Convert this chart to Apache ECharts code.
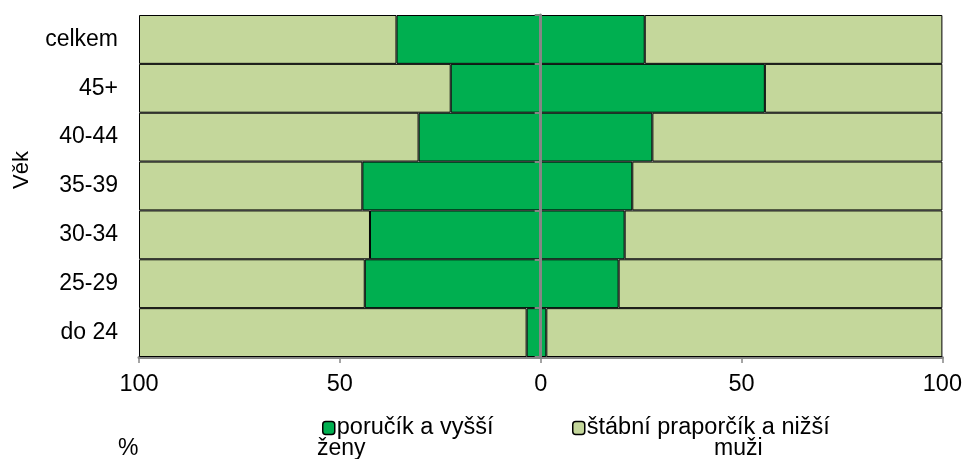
<!DOCTYPE html>
<html>
<head>
<meta charset="utf-8">
<script src="https://cdn.jsdelivr.net/npm/echarts@6/dist/echarts.min.js"></script>
<style>html,body{margin:0;padding:0;background:#fff}#c{width:965px;height:459px}</style>
</head>
<body>
<div id="c"></div>
<script>
const categories = ['celkem', '45+', '40-44', '35-39', '30-34', '25-29', 'do 24'];
const zenyVyssi = [35.9, 22.4, 30.4, 44.4, 42.5, 43.8, 3.5];
const zenyNizsi = [64.1, 77.6, 69.6, 55.6, 57.5, 56.2, 96.5];
const muziVyssi = [25.9, 55.8, 27.8, 22.8, 20.9, 19.4, 1.4];
const muziNizsi = [74.1, 44.2, 72.2, 77.2, 79.1, 80.6, 98.6];
const xTicks = [-100, -50, 0, 50, 100];
const seriesNames = ['poručík a vyšší', 'štábní praporčík a nižší'];

const FONT = "'Liberation Sans', Arial, sans-serif";
const DARK = '#00AF50';
const LIGHT = '#C4D79B';
const GRAY = '#868686';

const chart = echarts.init(document.getElementById('c'), null, {renderer: 'canvas'});
const barStyle = c => ({color: c, borderColor: '#000', borderWidth: 1});
const mk = (name, data, color, neg) => ({
  name, type: 'bar', stack: 'total', barCategoryGap: '0%', yAxisIndex: 0,
  data: data.map(v => neg ? -v : v), itemStyle: barStyle(color),
  emphasis: {disabled: true}, animation: false
});

chart.setOption({
  animation: false,
  grid: {left: 139, right: 22, top: 15, bottom: 102, containLabel: false},
  xAxis: {
    type: 'value', min: xTicks[0], max: xTicks[xTicks.length - 1], interval: 50,
    splitLine: {show: false},
    axisLine: {show: true, onZero: false, lineStyle: {color: GRAY, width: 3}},
    axisTick: {show: true, length: 6, lineStyle: {color: GRAY, width: 1.5}},
    axisLabel: {formatter: v => String(Math.abs(v)), color: '#000', fontSize: 23.5, fontFamily: FONT, margin: 16}
  },
  yAxis: [
    {
      type: 'category', data: categories, inverse: true, position: 'left', z: 10,
      axisLine: {show: true, onZero: true, onZeroAxisIndex: 0, lineStyle: {color: GRAY, width: 3}},
      axisTick: {show: true, length: 6, lineStyle: {color: GRAY, width: 2}},
      axisLabel: {show: false}
    },
    {
      type: 'category', data: categories, inverse: true, position: 'left',
      axisLine: {show: false, onZero: false}, axisTick: {show: false},
      axisLabel: {color: '#000', fontSize: 23, fontFamily: FONT, margin: 21}
    }
  ],
  legend: [
    {data: [seriesNames[0]], left: 317, top: 411, itemWidth: 12, itemHeight: 13, itemGap: 0,
     textStyle: {fontSize: 23.5, fontFamily: FONT, color: '#000', padding: [0,0,0,-3]},
     itemStyle: {borderColor: '#000', borderWidth: 1.5}},
    {data: [seriesNames[1]], left: 567, top: 411, itemWidth: 12, itemHeight: 13, itemGap: 0,
     textStyle: {fontSize: 23.5, fontFamily: FONT, color: '#000', padding: [0,0,0,-3]},
     itemStyle: {borderColor: '#000', borderWidth: 1.5}}
  ],
  graphic: [
    {type: 'text', left: 118, top: 437, style: {text: '%', font: '23px ' + FONT, fill: '#000'}},
    {type: 'text', left: 317, top: 437, style: {text: 'ženy', font: '23px ' + FONT, fill: '#000'}},
    {type: 'text', left: 714, top: 437, style: {text: 'muži', font: '23px ' + FONT, fill: '#000'}},
    {type: 'text', x: 22, y: 170, rotation: Math.PI / 2,
     style: {text: 'Věk', font: '22px ' + FONT, fill: '#000', align: 'center', verticalAlign: 'middle'}}
  ],
  series: [
    mk(seriesNames[0], zenyVyssi, DARK, true),
    mk(seriesNames[1], zenyNizsi, LIGHT, true),
    mk(seriesNames[0], muziVyssi, DARK, false),
    mk(seriesNames[1], muziNizsi, LIGHT, false)
  ]
});
</script>
</body>
</html>
